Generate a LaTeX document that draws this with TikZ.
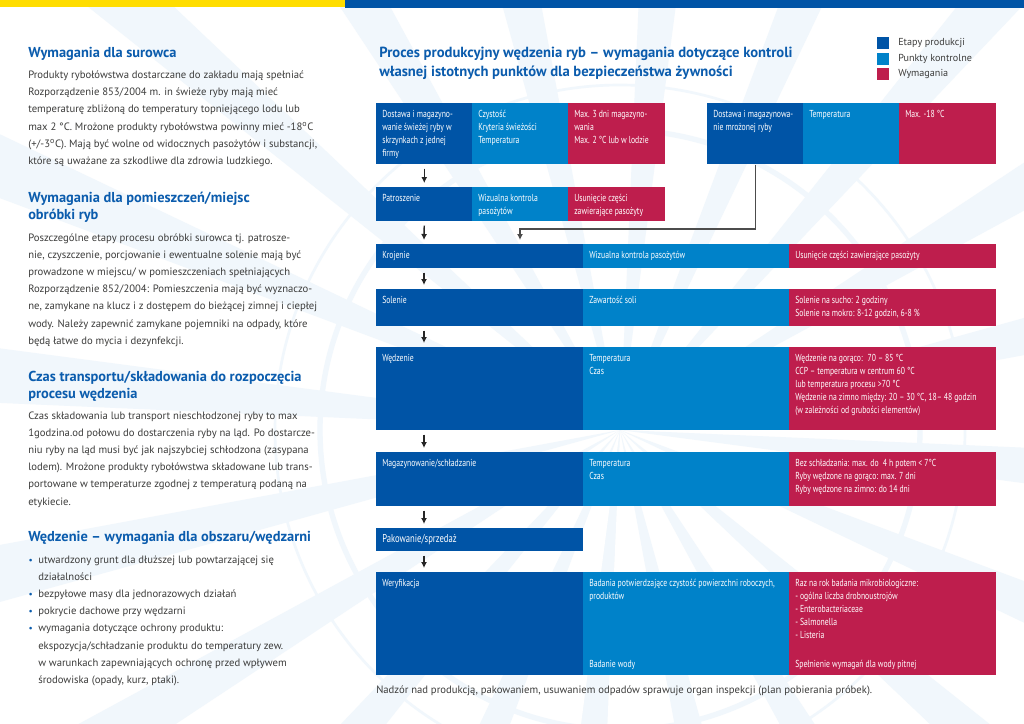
\documentclass[tikz,border=0pt]{standalone}
\usepackage{fontspec}
\setmainfont{PT Sans}
\newfontfamily\narrowfont[FakeStretch=0.76]{PT Sans}
\usetikzlibrary{arrows.meta,calc}

\definecolor{etapblue}{HTML}{0054A6}
\definecolor{punktblue}{HTML}{0082C9}
\definecolor{wymogred}{HTML}{BE1E4D}
\definecolor{headblue}{HTML}{0B5CAD}
\definecolor{bodygray}{HTML}{3C3C3B}
\definecolor{baryellow}{HTML}{FFDD00}
\definecolor{markblue}{HTML}{F1F7FC}

\newlength{\px}\setlength{\px}{0.75pt}
% cell contents: width, height (px), text
\newcommand{\cellbox}[3]{\parbox[t][#2\px][t]{\dimexpr#1\px-12\px\relax}{\raggedright\vspace*{3.6pt}\strut#3}}
% lines of text hanging from the first baseline
\newcommand{\textlines}[1]{\parbox[t]{420\px}{\raggedright#1}}
\newcommand{\punkt}{\leavevmode\llap{\textcolor{headblue}{\scriptsize\textbullet}\hspace{4pt}}}

\tikzset{
  cell/.style={anchor=north west, inner xsep=4.5pt, inner ysep=0pt, text=white,
    font=\narrowfont\fontsize{7.6}{9.75}\selectfont},
  etap/.style={cell, fill=etapblue},
  punkt/.style={cell, fill=punktblue},
  wymog/.style={cell, fill=wymogred},
  flow/.style={-{Latex[length=4.5pt,width=4.5pt]}, line width=1.1pt, black!85},
  headtext/.style={anchor=base west, inner sep=0pt, text=headblue,
    font=\bfseries\fontsize{10.8}{12.75}\selectfont},
  bodytext/.style={anchor=base west, inner sep=0pt, text=bodygray,
    font=\fontsize{8}{12.9}\selectfont},
  legendbox/.style={minimum size=9pt, inner sep=0pt},
  legendtext/.style={anchor=base west, inner sep=0pt, text=bodygray,
    font=\fontsize{7.6}{10}\selectfont},
}

\begin{document}
\begin{tikzpicture}[x=0.75pt,y=-0.75pt]
		%%%%% START %%%%%
		\useasboundingbox (0,0) rectangle (1024,724);
		\fill[white] (0,0) rectangle (1024,724);
		
		% faint watermark
		\begin{scope}
			\clip (0,8) rectangle (1024,724);
			\foreach \a in {95,113,...,455}
				\fill[markblue, shift={(620,430)}] (0,0) -- (\a-2.5:760) -- (\a+2.5:760) -- cycle;
			\draw[markblue, line width=4pt] (620,430) circle (300);
			\draw[markblue, line width=2pt] (620,430) circle (345);
		\end{scope}
		
		% top bar
		\fill[baryellow] (0,0) rectangle (345,7);
		\fill[etapblue] (345,0) rectangle (1024,8);
		
		% left column
		\node[headtext] (surowiecHead) at (28,58) {Wymagania dla surowca};
		\node[bodytext] (surowiecText) at (28,78.5) {\textlines{Produkty rybołówstwa dostarczane do zakładu mają spełniać\\
			Rozporządzenie 853/2004 m. in świeże ryby mają mieć\\
			temperaturę zbliżoną do temperatury topniejącego lodu lub\\
			max 2 °C. Mrożone produkty rybołówstwa powinny mieć -18\textsuperscript{o}C\\
			(+/-3\textsuperscript{o}C). Mają być wolne od widocznych pasożytów i substancji,\\
			które są uważane za szkodliwe dla zdrowia ludzkiego.}};
		
		\node[headtext] (pomieszczeniaHead) at (28,202) {\textlines{Wymagania dla pomieszczeń/miejsc\\obróbki ryb}};
		\node[bodytext] (pomieszczeniaText) at (28,241) {\textlines{Poszczególne etapy procesu obróbki surowca tj. patrosze-\\
			nie, czyszczenie, porcjowanie i ewentualne solenie mają być\\
			prowadzone w miejscu/ w pomieszczeniach spełniających\\
			Rozporządzenie 852/2004: Pomieszczenia mają być wyznaczo-\\
			ne, zamykane na klucz i z dostępem do bieżącej zimnej i ciepłej\\
			wody. Należy zapewnić zamykane pojemniki na odpady, które\\
			będą łatwe do mycia i dezynfekcji.}};
		
		\node[headtext] (transportHead) at (28,381) {\textlines{Czas transportu/składowania do rozpoczęcia\\procesu wędzenia}};
		\node[bodytext] (transportText) at (28,419) {\textlines{Czas składowania lub transport nieschłodzonej ryby to max\\
			1godzina.od połowu do dostarczenia ryby na ląd. Po dostarcze-\\
			niu ryby na ląd musi być jak najszybciej schłodzona (zasypana\\
			lodem). Mrożone produkty rybołówstwa składowane lub trans-\\
			portowane w temperaturze zgodnej z temperaturą podaną na\\
			etykiecie.}};
		
		\node[headtext] (wedzarniaHead) at (28,541) {Wędzenie – wymagania dla obszaru/wędzarni};
		\node[bodytext] (wedzarniaText) at (38,563) {\textlines{\punkt utwardzony grunt dla dłuższej lub powtarzającej się\\
			działalności\\
			\punkt bezpyłowe masy dla jednorazowych działań\\
			\punkt pokrycie dachowe przy wędzarni\\
			\punkt wymagania dotyczące ochrony produktu:\\
			ekspozycja/schładzanie produktu do temperatury zew.\\
			w warunkach zapewniających ochronę przed wpływem\\
			środowiska (opady, kurz, ptaki).}};
		
		% title and legend
		\node[headtext, font=\bfseries\fontsize{11}{13.5}\selectfont] (title) at (379,58) {\textlines{Proces produkcyjny wędzenia ryb – wymagania dotyczące kontroli\\własnej istotnych punktów dla bezpieczeństwa żywności}};
		
		\node[legendbox, fill=etapblue] (legEtap) at (883,43) {};
		\node[legendbox, fill=punktblue] (legPunkt) at (883,59) {};
		\node[legendbox, fill=wymogred] (legWymog) at (883,74) {};
		\node[legendtext] (legEtapText) at (898,46) {Etapy produkcji};
		\node[legendtext] (legPunktText) at (898,62) {Punkty kontrolne};
		\node[legendtext] (legWymogText) at (898,77) {Wymagania};
		
		% fresh fish delivery
		\node[etap] (dostawa) at (376,103) {\cellbox{96}{61}{Dostawa i magazyno-\\wanie świeżej ryby w\\skrzynkach z jednej\\firmy}};
		\node[punkt] (dostawaPunkt) at (472,103) {\cellbox{96}{61}{Czystość\\Kryteria świeżości\\Temperatura}};
		\node[wymog] (dostawaWymog) at (568,103) {\cellbox{97}{61}{Max. 3 dni magazyno-\\wania\\Max. 2 °C lub w lodzie}};
		
		% frozen fish delivery
		\node[etap] (mrozona) at (707,103) {\cellbox{96}{61}{Dostawa i magazynowa-\\nie mrożonej ryby}};
		\node[punkt] (mrozonaPunkt) at (803,103) {\cellbox{96}{61}{Temperatura}};
		\node[wymog] (mrozonaWymog) at (899,103) {\cellbox{97}{61}{Max. -18 °C}};
		
		\node[etap] (patroszenie) at (376,187) {\cellbox{96}{34}{Patroszenie}};
		\node[punkt] (patroszeniePunkt) at (472,187) {\cellbox{96}{34}{Wizualna kontrola\\pasożytów}};
		\node[wymog] (patroszenieWymog) at (568,187) {\cellbox{97}{34}{Usunięcie części\\zawierające pasożyty}};
		
		\node[etap] (krojenie) at (376,244) {\cellbox{207}{24}{Krojenie}};
		\node[punkt] (krojeniePunkt) at (583,244) {\cellbox{206}{24}{Wizualna kontrola pasożytów}};
		\node[wymog] (krojenieWymog) at (789,244) {\cellbox{207}{24}{Usunięcie części zawierające pasożyty}};
		
		\node[etap] (solenie) at (376,289) {\cellbox{207}{37}{Solenie}};
		\node[punkt] (soleniePunkt) at (583,289) {\cellbox{206}{37}{Zawartość soli}};
		\node[wymog] (solenieWymog) at (789,289) {\cellbox{207}{37}{Solenie na sucho: 2 godziny\\Solenie na mokro: 8-12 godzin, 6-8 \%}};
		
		\node[etap] (wedzenie) at (376,347) {\cellbox{207}{83}{Wędzenie}};
		\node[punkt] (wedzeniePunkt) at (583,347) {\cellbox{206}{83}{Temperatura\\Czas}};
		\node[wymog] (wedzenieWymog) at (789,347) {\cellbox{207}{83}{Wędzenie na gorąco:~ 70 – 85 °C\\CCP – temperatura w centrum 60 °C\\lub temperatura procesu >70 °C\\Wędzenie na zimno między: 20 – 30 °C, 18– 48 godzin\\(w zależności od grubości elementów)}};
		
		\node[etap] (magazyn) at (376,452) {\cellbox{207}{54}{Magazynowanie/schładzanie}};
		\node[punkt] (magazynPunkt) at (583,452) {\cellbox{206}{54}{Temperatura\\Czas}};
		\node[wymog] (magazynWymog) at (789,452) {\cellbox{207}{54}{Bez schładzania: max. do~ 4 h potem < 7°C\\Ryby wędzone na gorąco: max. 7 dni\\Ryby wędzone na zimno: do 14 dni}};
		
		\node[etap, font=\narrowfont\fontsize{8.5}{10}\selectfont] (pakowanie) at (376,528) {\cellbox{207}{23}{Pakowanie/sprzedaż}};
		
		\node[etap] (weryfikacja) at (376,572) {\cellbox{207}{103}{Weryfikacja}};
		\node[punkt] (weryfikacjaPunkt) at (583,572) {\cellbox{206}{103}{Badania potwierdzające czystość powierzchni roboczych,\\produktów\par\vfill Badanie wody\par\vspace*{4.5pt}}};
		\node[wymog] (weryfikacjaWymog) at (789,572) {\cellbox{207}{103}{Raz na rok badania mikrobiologiczne:\\- ogólna liczba drobnoustrojów\\- Enterobacteriaceae\\- Salmonella\\- Listeria\par\vfill Spełnienie wymagań dla wody pitnej\par\vspace*{4.5pt}}};
		
		\node[bodytext] (nadzor) at (376,693.5) {Nadzór nad produkcją, pakowaniem, usuwaniem odpadów sprawuje organ inspekcji (plan pobierania próbek).};
		
		% arrows
		\coordinate (axis) at (424,0);
		\coordinate (zbieg) at (520,229);
		\draw[flow] ([yshift=-3pt]dostawa.south) -- ([yshift=3pt]patroszenie.north);
		\draw[flow] ([yshift=-3pt]patroszenie.south) -- ([yshift=3pt]axis |- krojenie.north);
		\draw[flow] ([yshift=-3pt]axis |- krojenie.south) -- ([yshift=3pt]axis |- solenie.north);
		\draw[flow] ([yshift=-3pt]axis |- solenie.south) -- ([yshift=3pt]axis |- wedzenie.north);
		\draw[flow] ([yshift=-3pt]axis |- wedzenie.south) -- ([yshift=3pt]axis |- magazyn.north);
		\draw[flow] ([yshift=-3pt]axis |- magazyn.south) -- ([yshift=3pt]axis |- pakowanie.north);
		\draw[flow] ([yshift=-3pt]axis |- pakowanie.south) -- ([yshift=3pt]axis |- weryfikacja.north);
		\draw[flow, black!70] (mrozona.south) |- (zbieg) -- ([yshift=3pt]zbieg |- krojenie.north);
		
		%%%%% END %%%%%
\end{tikzpicture}
\end{document}
